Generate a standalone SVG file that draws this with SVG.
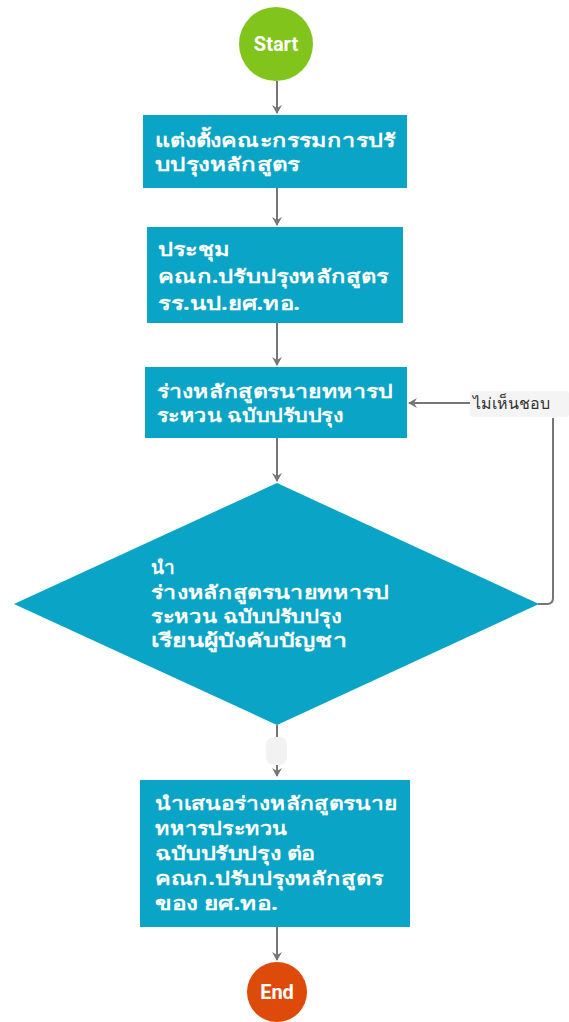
<svg xmlns="http://www.w3.org/2000/svg" width="569" height="1022" viewBox="0 0 569 1022">
<style>
.box{fill:#0aa4c6;}
.t{font-family:"Noto Sans","DejaVu Sans",sans-serif;font-size:19px;font-weight:bold;fill:#ffffff;}
.c{font-family:Roboto,"Liberation Sans",sans-serif;font-size:20px;font-weight:bold;fill:#ffffff;text-anchor:middle;}
.lbl{font-family:"Noto Sans","DejaVu Sans",sans-serif;font-size:16px;fill:#333333;}
.ln{stroke:#767676;stroke-width:2;fill:none;}
</style>
<defs>
<marker id="ah" markerWidth="10" markerHeight="10" refX="8" refY="5" orient="auto" markerUnits="userSpaceOnUse">
<path d="M0,0 L9,5 L0,10 L3,5 Z" fill="#767676"/>
</marker>
</defs>
<rect width="569" height="1022" fill="#ffffff"/>
<g id="connectors">
<line class="ln" x1="277" y1="81" x2="277" y2="113" marker-end="url(#ah)"/>
<line class="ln" x1="277" y1="188" x2="277" y2="225" marker-end="url(#ah)"/>
<line class="ln" x1="277" y1="323" x2="277" y2="365" marker-end="url(#ah)"/>
<line class="ln" x1="277" y1="438" x2="277" y2="481" marker-end="url(#ah)"/>
<path class="ln" d="M538,604 L547,604 Q553,604 553,598 L553,418"/>
<line class="ln" x1="470" y1="403" x2="409" y2="403" marker-end="url(#ah)"/>
<line class="ln" x1="277" y1="725" x2="277" y2="776" marker-end="url(#ah)"/>
<line class="ln" x1="277" y1="927" x2="277" y2="960" marker-end="url(#ah)"/>
</g>
<g id="label-reject">
<rect x="470" y="391" width="99" height="26" rx="3" fill="#f4f4f4"/>
<text class="lbl" x="473" y="409">ไม่เห็นชอบ</text>
</g>
<g id="label-empty">
<rect x="266" y="737" width="21" height="28" rx="8" fill="#f2f2f2"/>
</g>
<g id="start">
<circle cx="276" cy="44" r="37" fill="#80c41c"/>
<text class="c" x="276" y="51">Start</text>
</g>
<g id="step1">
<rect class="box" x="143" y="115" width="264" height="73"/>
<text class="t" x="155" y="147" textLength="240" lengthAdjust="spacingAndGlyphs">แต่งตั้งคณะกรรมการปรั</text>
<text class="t" x="155" y="171" textLength="145" lengthAdjust="spacingAndGlyphs">บปรุงหลักสูตร</text>
</g>
<g id="step2">
<rect class="box" x="147" y="227" width="256" height="96"/>
<text class="t" x="158" y="256" textLength="72" lengthAdjust="spacingAndGlyphs">ประชุม</text>
<text class="t" x="158" y="283" textLength="230" lengthAdjust="spacingAndGlyphs">คณก.ปรับปรุงหลักสูตร</text>
<text class="t" x="158" y="310" textLength="142" lengthAdjust="spacingAndGlyphs">รร.นป.ยศ.ทอ.</text>
</g>
<g id="step3">
<rect class="box" x="145" y="367" width="262" height="71"/>
<text class="t" x="157" y="398" textLength="236" lengthAdjust="spacingAndGlyphs">ร่างหลักสูตรนายทหารป</text>
<text class="t" x="157" y="422" textLength="186" lengthAdjust="spacingAndGlyphs">ระหวน ฉบับปรับปรุง</text>
</g>
<g id="decision">
<polygon class="box" points="277,483 539,604 277,725 14,604"/>
<text class="t" x="151" y="574" textLength="24" lengthAdjust="spacingAndGlyphs">นำ</text>
<text class="t" x="151" y="599" textLength="238" lengthAdjust="spacingAndGlyphs">ร่างหลักสูตรนายทหารป</text>
<text class="t" x="151" y="623" textLength="190" lengthAdjust="spacingAndGlyphs">ระหวน ฉบับปรับปรุง</text>
<text class="t" x="151" y="647" textLength="196" lengthAdjust="spacingAndGlyphs">เรียนผู้บังคับบัญชา</text>
</g>
<g id="step4">
<rect class="box" x="140" y="780" width="270" height="147"/>
<text class="t" x="155" y="810" textLength="242" lengthAdjust="spacingAndGlyphs">นำเสนอร่างหลักสูตรนาย</text>
<text class="t" x="155" y="835" textLength="132" lengthAdjust="spacingAndGlyphs">ทหารประทวน</text>
<text class="t" x="155" y="860" textLength="160" lengthAdjust="spacingAndGlyphs">ฉบับปรับปรุง ต่อ</text>
<text class="t" x="155" y="885" textLength="228" lengthAdjust="spacingAndGlyphs">คณก.ปรับปรุงหลักสูตร</text>
<text class="t" x="155" y="910" textLength="123" lengthAdjust="spacingAndGlyphs">ของ ยศ.ทอ.</text>
</g>
<g id="end">
<circle cx="277" cy="992" r="30" fill="#dd4a0a"/>
<text class="c" x="277" y="999">End</text>
</g>
</svg>
